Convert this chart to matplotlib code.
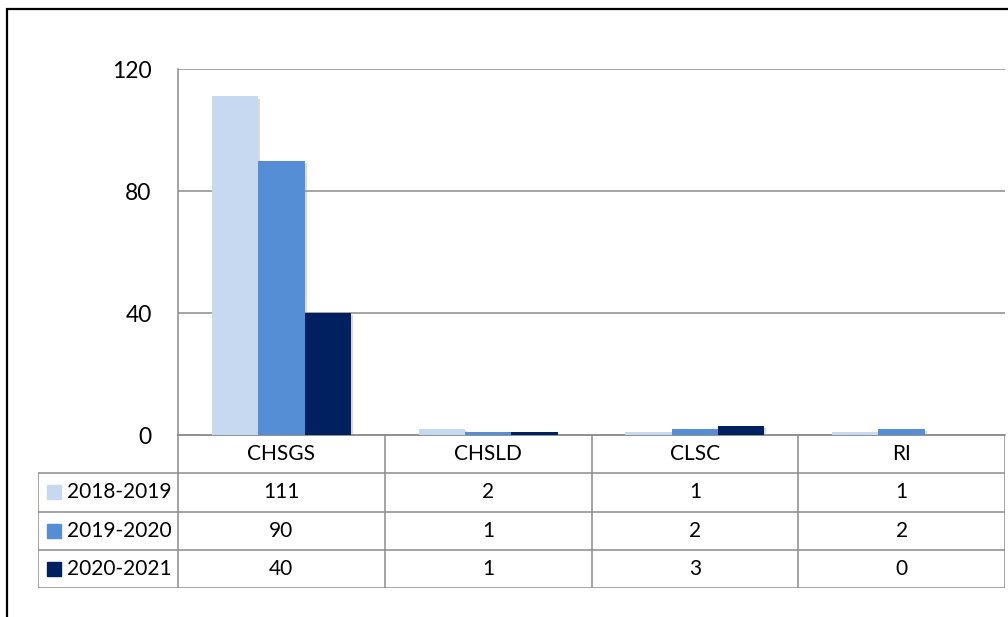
"""Grouped bar chart with an Excel-style data table underneath."""

import matplotlib
matplotlib.use("Agg")
import matplotlib.pyplot as plt
import matplotlib.patheffects as pe
from matplotlib.patches import Rectangle
import numpy as np

plt.rcParams["font.family"] = ["Lato", "DejaVu Sans"]

categories = ["CHSGS", "CHSLD", "CLSC", "RI"]
series_names = ["2018-2019", "2019-2020", "2020-2021"]
values_2018 = [111, 2, 1, 1]
values_2019 = [90, 1, 2, 2]
values_2020 = [40, 1, 3, 0]
y_ticks = [0, 40, 80, 120]

series_values = [values_2018, values_2019, values_2020]
colors = ["#C6D9F1", "#558ED5", "#002060"]
grid_color = "#8C8C8C"

W, H = 1008, 617
fig = plt.figure(figsize=(W / 100, H / 100), dpi=100)

# pixel layout of the plot area and the table
plot_l, plot_r, plot_t, plot_b = 178, 1005, 69, 435
tab_l, tab_b = 38, 588


def fig_rect(l, t, r, b):
    return [l / W, 1 - b / H, (r - l) / W, (b - t) / H]


ax = fig.add_axes(fig_rect(plot_l, plot_t, plot_r, plot_b))
tab = fig.add_axes(fig_rect(tab_l, plot_b, plot_r, tab_b))

# --- bars ---
x = np.arange(len(categories))
bar_w = 0.224
shadow = [pe.SimplePatchShadow(offset=(1.5, -1.5), shadow_rgbFace="#999999", alpha=0.35), pe.Normal()]
for i, (vals, col) in enumerate(zip(series_values, colors)):
    bars = ax.bar(x + (i - 1) * bar_w, vals, bar_w, color=col, zorder=3)
    for b in bars:
        b.set_path_effects(shadow)

ax.set_xlim(-0.5, len(categories) - 0.5)
ax.set_ylim(0, 120)
ax.set_yticks(y_ticks)
ax.set_xticks([])
ax.tick_params(axis="y", length=0, pad=19, labelsize=16.5)
ax.yaxis.grid(True, color=grid_color, lw=1.1)
ax.set_axisbelow(True)
for side in ["top", "right"]:
    ax.spines[side].set_visible(False)
for side in ["left", "bottom"]:
    ax.spines[side].set_color(grid_color)
    ax.spines[side].set_linewidth(1.1)

# --- data table ---
units_per_px = len(categories) / (plot_r - plot_l)
x_left = -0.5 - (plot_l - tab_l) * units_per_px
x_right = len(categories) - 0.5
n_rows = len(series_names) + 1
tab.set_xlim(x_left, x_right)
tab.set_ylim(n_rows, 0)
tab.axis("off")

tab.hlines(0, -0.5, x_right, color=grid_color, lw=1.1)
tab.hlines(np.arange(1, n_rows + 1), x_left, x_right, color=grid_color, lw=1.1)
tab.vlines(np.arange(len(categories) + 1) - 0.5, 0, n_rows, color=grid_color, lw=1.1)
tab.vlines(x_left, 1, n_rows, color=grid_color, lw=1.1)

for j, cat in enumerate(categories):
    tab.text(j, 0.5, cat, ha="center", va="center", fontsize=15)

mark_x = x_left + 16 * units_per_px
label_x = x_left + 29 * units_per_px
for i, (name, vals, col) in enumerate(zip(series_names, series_values, colors)):
    row = i + 1.5
    tab.plot(mark_x, row, "s", ms=9.5, color=col, clip_on=False)
    tab.text(label_x, row, name, ha="left", va="center", fontsize=15)
    for j, v in enumerate(vals):
        tab.text(j, row, str(v), ha="center", va="center", fontsize=15)

# outer chart border
fig.patches.append(Rectangle((7 / W, -0.05), 1.1, 1 - 9 / H + 0.05,
                             transform=fig.transFigure, fill=False,
                             edgecolor="black", lw=1.6))

fig.savefig("out.png", dpi=100)
plt.close(fig)
